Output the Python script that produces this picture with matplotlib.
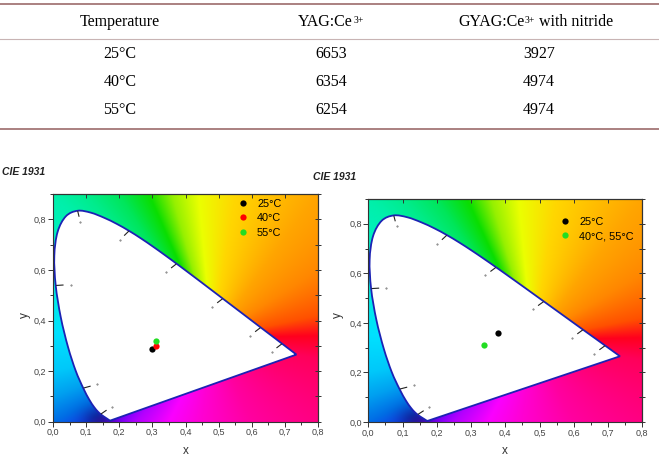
import numpy as np
import matplotlib
matplotlib.use('Agg')
import matplotlib.pyplot as plt
from matplotlib.ticker import MultipleLocator, FuncFormatter
from matplotlib.path import Path
from matplotlib.patches import PathPatch

plt.rcParams['font.family'] = ['Liberation Sans', 'DejaVu Sans']

# table data
table_header = [('Temperature', ''), ('YAG:Ce', '3+'), ('GYAG:Ce', '3+')]
header_tail = ['', '', ' with nitride']
temperatures = ['25°C', '40°C', '55°C']
cct_yag = [6653, 6354, 6254]
cct_gyag = [3927, 4974, 4974]

# chromaticity points, left chart (YAG) and right chart (GYAG)
left_labels = ['25°C', '40°C', '55°C']
left_x = [0.300, 0.310, 0.311]
left_y = [0.289, 0.299, 0.320]
left_colors = ['black', 'red', '#22dd22']

right_labels = ['25°C', '40°C, 55°C']
right_x = [0.380, 0.339]
right_y = [0.359, 0.310]
right_colors = ['black', '#22dd22']

# CIE 1931 2 deg spectral locus, 380-700 nm every 5 nm
locus_x = [0.1741, 0.1740, 0.1738, 0.1736, 0.1733, 0.1730, 0.1726, 0.1721, 0.1714, 0.1703,
           0.1689, 0.1669, 0.1644, 0.1611, 0.1566, 0.1510, 0.1440, 0.1355, 0.1241, 0.1096,
           0.0913, 0.0687, 0.0454, 0.0235, 0.0082, 0.0039, 0.0139, 0.0389, 0.0743, 0.1142,
           0.1547, 0.1929, 0.2296, 0.2658, 0.3016, 0.3373, 0.3731, 0.4087, 0.4441, 0.4788,
           0.5125, 0.5448, 0.5752, 0.6029, 0.6270, 0.6482, 0.6658, 0.6801, 0.6915, 0.7006,
           0.7079, 0.7140, 0.7190, 0.7230, 0.7260, 0.7283, 0.7300, 0.7311, 0.7320, 0.7327,
           0.7334, 0.7340, 0.7344, 0.7346, 0.7347]
locus_y = [0.0050, 0.0050, 0.0049, 0.0049, 0.0048, 0.0048, 0.0048, 0.0048, 0.0051, 0.0058,
           0.0069, 0.0086, 0.0109, 0.0138, 0.0177, 0.0227, 0.0297, 0.0399, 0.0578, 0.0868,
           0.1327, 0.2007, 0.2950, 0.4127, 0.5384, 0.6548, 0.7502, 0.8120, 0.8338, 0.8262,
           0.8059, 0.7816, 0.7543, 0.7243, 0.6923, 0.6589, 0.6245, 0.5896, 0.5547, 0.5202,
           0.4866, 0.4544, 0.4242, 0.3965, 0.3725, 0.3514, 0.3340, 0.3197, 0.3083, 0.2993,
           0.2920, 0.2859, 0.2809, 0.2770, 0.2740, 0.2717, 0.2700, 0.2689, 0.2680, 0.2673,
           0.2666, 0.2660, 0.2656, 0.2654, 0.2653]
mark_wl = [460, 480, 500, 520, 540, 560, 580, 600, 620]

# colours seen along the frame of the diagram, used to paint the background
edge_pts = [(0.0, 0.9, (0, 240, 170)), (0.1, 0.9, (0, 236, 140)), (0.2, 0.9, (0, 230, 90)),
            (0.29, 0.9, (10, 222, 0)), (0.36, 0.9, (150, 240, 0)), (0.44, 0.9, (235, 255, 0)),
            (0.55, 0.9, (255, 215, 0)), (0.8, 0.9, (255, 165, 0)), (0.8, 0.6, (255, 135, 0)),
            (0.8, 0.42, (255, 80, 0)), (0.8, 0.34, (255, 0, 30)), (0.8, 0.25, (255, 0, 90)),
            (0.8, 0.0, (255, 0, 130)), (0.6, 0.0, (255, 0, 160)), (0.45, 0.0, (255, 0, 210)),
            (0.35, 0.0, (250, 0, 255)), (0.25, 0.0, (180, 0, 255)), (0.18, 0.0, (110, 0, 255)),
            (0.1, 0.0, (20, 60, 235)), (0.0, 0.0, (0, 110, 230)), (0.0, 0.1, (0, 160, 240)),
            (0.0, 0.2, (0, 200, 250)), (0.0, 0.35, (0, 225, 255)), (0.0, 0.5, (0, 235, 230)),
            (0.0, 0.7, (0, 240, 200))]


def background():
    cx, cy = 0.48, 0.33
    ang = np.array([np.degrees(np.arctan2(p[1] - cy, p[0] - cx)) % 360 for p in edge_pts])
    cols = np.array([p[2] for p in edge_pts]) / 255.0
    order = np.argsort(ang)
    ang, cols = ang[order], cols[order]
    gx, gy = np.meshgrid(np.linspace(0, 0.8, 400), np.linspace(0, 0.9, 450))
    th = np.degrees(np.arctan2(gy - cy, gx - cx)) % 360
    img = np.dstack([np.interp(th, ang, cols[:, i], period=360) for i in range(3)])
    # darker blue near the violet end of the locus
    d2 = (gx - 0.14) ** 2 + (gy - 0.01) ** 2
    img = img * (1 - 0.35 * np.exp(-d2 / 0.05 ** 2))[..., None]
    return img


def locus_path():
    p = np.column_stack([locus_x, locus_y])
    verts = [p[0]]
    codes = [Path.MOVETO]
    n = len(p)
    for i in range(n - 1):
        a = p[max(i - 1, 0)]
        b = p[i]
        c = p[i + 1]
        d = p[min(i + 2, n - 1)]
        verts += [b + (c - a) / 6, c - (d - b) / 6, c]
        codes += [Path.CURVE4] * 3
    verts += [p[0], p[0]]
    codes += [Path.LINETO, Path.CLOSEPOLY]
    return Path(verts, codes)


def comma(v, pos):
    return f'{v:.1f}'.replace('.', ',')


def cie_axes(rect, xs, ys, cs, labels, img, leg_anchor, xlab_pos, ylab_pos):
    ax = fig.add_axes(rect)
    ax.imshow(img, origin='lower', extent=[0, 0.8, 0, 0.9], aspect='auto',
              interpolation='bilinear', zorder=0)
    ax.add_patch(PathPatch(locus_path(), facecolor='white', edgecolor='#1c22b4', lw=1.3, zorder=2))
    lx = np.array(locus_x)
    ly = np.array(locus_y)
    # wavelength marks outside the locus
    for wl in mark_wl:
        i = int((wl - 380) / 5)
        tx = lx[i + 1] - lx[i - 1]
        ty = ly[i + 1] - ly[i - 1]
        n = np.hypot(tx, ty)
        nx, ny = ty / n, -tx / n
        ax.plot([lx[i] + 0.003 * nx, lx[i] + 0.022 * nx], [ly[i] + 0.003 * ny, ly[i] + 0.022 * ny],
                color='#222222', lw=0.8, zorder=3)
        ax.plot(lx[i] + 0.045 * nx, ly[i] + 0.045 * ny, '.', color='#555555', ms=0.8, zorder=3)
    for x, y, c, lab in zip(xs, ys, cs, labels):
        ax.plot(x, y, 'o', color=c, ms=4.5, mec='none', label=lab, zorder=4)
    ax.set_xlim(0, 0.8)
    ax.set_ylim(0, 0.9)
    ax.xaxis.set_major_locator(MultipleLocator(0.1))
    ax.xaxis.set_minor_locator(MultipleLocator(0.05))
    ax.yaxis.set_major_locator(MultipleLocator(0.2))
    ax.yaxis.set_minor_locator(MultipleLocator(0.1))
    ax.xaxis.set_major_formatter(FuncFormatter(comma))
    ax.yaxis.set_major_formatter(FuncFormatter(comma))
    ax.tick_params(which='both', direction='out', labelsize=6.5, labelcolor='#444444',
                   color='#333333', width=0.7, pad=1.2)
    ax.tick_params(which='major', length=3.5)
    ax.tick_params(which='minor', length=2)
    top = ax.secondary_xaxis('top')
    top.xaxis.set_major_locator(MultipleLocator(0.1))
    top.tick_params(direction='in', length=3, labeltop=False, color='#333333', width=0.7)
    right = ax.secondary_yaxis('right')
    right.yaxis.set_major_locator(MultipleLocator(0.1))
    right.tick_params(direction='inout', length=4, labelright=False, color='#333333', width=0.7)
    for s in list(ax.spines.values()) + [top.spines['top'], right.spines['right']]:
        s.set_color('#333333')
        s.set_linewidth(0.8)
    ax.set_xlabel('x', fontsize=8.5, color='#333333')
    ax.set_ylabel('y', fontsize=8.5, color='#333333')
    ax.xaxis.set_label_coords(*xlab_pos)
    ax.yaxis.set_label_coords(*ylab_pos)
    ax.legend(loc='upper left', bbox_to_anchor=leg_anchor, frameon=False, fontsize=7.8,
              handletextpad=0.8, labelspacing=0.4, handlelength=1.0, borderpad=0.3,
              borderaxespad=0)
    return ax


fig = plt.figure(figsize=(6.59, 4.58), dpi=100)

# table drawn in pixel coordinates
tab = fig.add_axes([0, 1 - 140 / 458, 1, 140 / 458])
tab.set_xlim(0, 659)
tab.set_ylim(140, 0)
tab.axis('off')
col_x = [120, 331, 539]
row_y = [54, 82, 110]
tab.plot([0, 659], [4, 4], color='#9c6b6b', lw=1.2)
tab.plot([0, 659], [39, 39], color='#c8b4b4', lw=0.8)
tab.plot([0, 659], [129, 129], color='#9c6b6b', lw=1.2)
serif = 'Liberation Serif'
# header: main text, raised small "3+", optional tail
head_left = [80, 298, 458]
for (main, sup), tail, x0 in zip(table_header, header_tail, head_left):
    t = tab.text(x0, 22, main, ha='left', va='center', fontsize=11.5, family=serif)
    if sup:
        s = tab.annotate(sup, xycoords=t, xy=(1, 1), xytext=(0.3, -1.2), textcoords='offset points',
                         ha='left', va='top', fontsize=7, family=serif)
        if tail:
            tab.annotate(tail, xycoords=(s, t), xy=(1, 0.5), ha='left', va='center',
                         fontsize=11.5, family=serif)
for i, ry in enumerate(row_y):
    tab.text(col_x[0], ry, temperatures[i], ha='center', va='center', fontsize=11.5, family=serif)
    tab.text(col_x[1], ry, str(cct_yag[i]), ha='center', va='center', fontsize=11.5, family=serif)
    tab.text(col_x[2], ry, str(cct_gyag[i]), ha='center', va='center', fontsize=11.5, family=serif)

img = background()
cie_axes([53 / 659, 36.3 / 458, 265 / 659, 227.7 / 458], left_x, left_y, left_colors, left_labels,
         img, (0.684, 0.993), (0.5, -0.102), (-0.083, 0.469))
cie_axes([368.3 / 659, 36 / 458, 274 / 659, 223 / 458], right_x, right_y, right_colors, right_labels,
         img, (0.686, 0.9345), (0.499, -0.103), (-0.089, 0.48))

fig.text(2 / 659, 1 - 172 / 458, 'CIE 1931', fontsize=7.5, fontweight='bold', style='italic',
         va='center', ha='left', color='#222222')
fig.text(313 / 659, 1 - 177 / 458, 'CIE 1931', fontsize=7.5, fontweight='bold', style='italic',
         va='center', ha='left', color='#222222')

fig.savefig('out.png', dpi=100)
